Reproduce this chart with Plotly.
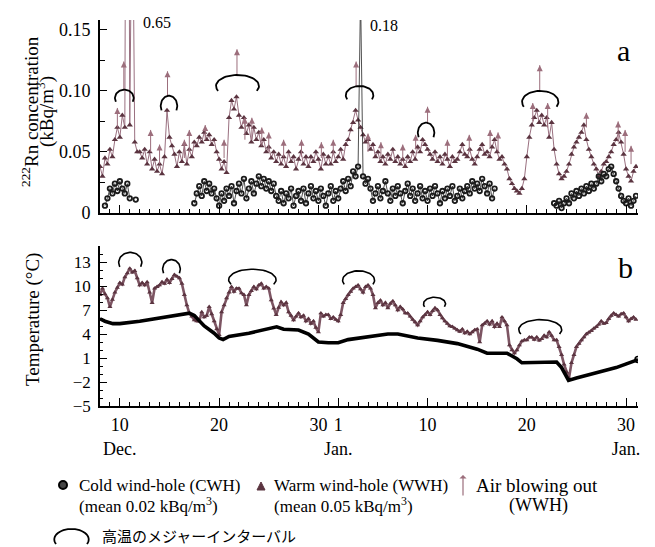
import numpy as np
import plotly.graph_objects as go

# ---------------- data (days counted from 0 Dec; Jan n = 31 + n) ----------------
STEP = 0.25

# (a) Radon, warm wind-hole (WWH), every 6 h from 8 Dec
wwh_rn_start = 8.0
wwh_rn = [
    0.038, 0.030, 0.045, 0.040, 0.052, 0.046, 0.060, 0.070,
    0.062, 0.080, 0.070, 0.650, 0.072, 0.300, 0.058, 0.050,
    0.050, 0.045, 0.052, 0.040, 0.050, 0.036, 0.044, 0.034,
    0.040, 0.032, 0.046, 0.084, 0.062, 0.055, 0.048, 0.038,
    0.050, 0.042, 0.056, 0.040, 0.052, 0.046, 0.058, 0.055,
    0.062, 0.058, 0.066, 0.060, 0.064, 0.056, 0.060, 0.050,
    0.044, 0.036, 0.042, 0.033, 0.078, 0.092, 0.085, 0.095,
    0.080, 0.070, 0.078, 0.065, 0.072, 0.058, 0.070, 0.060,
    0.066, 0.055, 0.060, 0.050, 0.054, 0.045, 0.050, 0.042,
    0.048, 0.040, 0.046, 0.038, 0.050, 0.042, 0.046, 0.036,
    0.044, 0.050, 0.040, 0.046, 0.038, 0.046, 0.042, 0.050,
    0.044, 0.036, 0.048, 0.040, 0.046, 0.040, 0.050, 0.042,
    0.046, 0.052, 0.044, 0.056, 0.060, 0.068, 0.074, 0.084,
    0.076, 0.070, 0.064, 0.058, 0.060, 0.052, 0.056, 0.046,
    0.050, 0.042, 0.046, 0.040, 0.048, 0.044, 0.052, 0.042,
    0.046, 0.040, 0.044, 0.038, 0.046, 0.042, 0.050, 0.044,
    0.054, 0.050, 0.060, 0.056, 0.052, 0.048, 0.044, 0.050,
    0.042, 0.046, 0.040, 0.048, 0.044, 0.038, 0.046, 0.042,
    0.044, 0.050, 0.056, 0.048, 0.046, 0.052, 0.044, 0.040,
    0.046, 0.052, 0.056, 0.048, 0.050, 0.046, 0.054, 0.060,
    0.050, 0.044, 0.046, 0.040, 0.036, 0.028, 0.024, 0.020,
    0.018, 0.016, 0.020, 0.028, 0.046, 0.062, 0.072, 0.078,
    0.084, 0.074, 0.080, 0.072, 0.078, 0.062, 0.074, 0.052,
    0.040, 0.032, 0.028, 0.030, 0.034, 0.040, 0.048, 0.054,
    0.058, 0.062, 0.066, 0.072, 0.060, 0.052, 0.046, 0.040,
    0.036, 0.030, 0.034, 0.040, 0.042, 0.046, 0.050, 0.056,
    0.060, 0.066, 0.058, 0.048, 0.036, 0.030, 0.026, 0.034,
    0.038,
]

# (a) Radon, cold wind-hole (CWH): separate recorded stretches
cwh_rn_a_start = 8.5
cwh_rn_a = [0.006, 0.012, 0.020, 0.016, 0.024, 0.018, 0.026, 0.020, 0.016, 0.024, 0.012]
cwh_rn_b_start = 11.6
cwh_rn_b = [0.011]
cwh_rn_c_start = 17.5
cwh_rn_c = [
    0.008, 0.016,
    0.022, 0.014, 0.026, 0.018, 0.024, 0.016, 0.020, 0.012,
    0.006, 0.016, 0.010, 0.020, 0.014, 0.022, 0.008, 0.018,
    0.024, 0.016, 0.028, 0.012, 0.020, 0.026, 0.016, 0.024,
    0.030, 0.022, 0.028, 0.020, 0.026, 0.018, 0.024, 0.014,
    0.010, 0.018, 0.008, 0.016, 0.012, 0.020, 0.006, 0.014,
    0.018, 0.010, 0.020, 0.008, 0.016, 0.022, 0.012, 0.018,
    0.010, 0.020, 0.014, 0.006, 0.016, 0.022, 0.010, 0.018,
    0.012, 0.020, 0.026, 0.018, 0.028, 0.022, 0.034, 0.030,
    0.038, 0.180, 0.030, 0.024, 0.028, 0.020, 0.010, 0.016,
    0.022, 0.012, 0.018, 0.026, 0.016, 0.010, 0.020, 0.014,
    0.022, 0.016, 0.008, 0.018, 0.024, 0.014, 0.020, 0.010,
    0.016, 0.022, 0.012, 0.018, 0.010, 0.020, 0.014, 0.022,
    0.016, 0.008, 0.018, 0.012, 0.020, 0.014, 0.022, 0.010,
    0.014, 0.020, 0.012, 0.018, 0.022, 0.016, 0.026, 0.020,
    0.024, 0.018, 0.028, 0.022, 0.016, 0.024, 0.012, 0.020,
]
cwh_rn_d_start = 53.75
cwh_rn_d = [
    0.008,
    0.006, 0.010, 0.004, 0.008, 0.012, 0.008, 0.016, 0.012,
    0.018, 0.014, 0.020, 0.016, 0.022, 0.018, 0.024, 0.020,
    0.024, 0.030, 0.026, 0.032, 0.030, 0.036, 0.038, 0.032,
    0.026, 0.020, 0.014, 0.010, 0.008, 0.012, 0.006, 0.010,
    0.014,
]

# (a) "Air blowing out" (WWH) arrows
arrow_day = [10.4, 14.8, 21.8, 33.8, 41.0, 52.3, 9.75, 13.1, 14.0, 16.5, 17.0, 18.6,
             20.5, 22.6, 23.3, 24.3, 25.0, 26.5, 28.3, 30.3, 31.5, 35.0, 36.3, 38.5,
             39.8, 43.0, 45.2, 47.3, 48.1, 51.6, 53.1, 57.0, 60.2, 60.9, 61.5]
arrow_base = [0.100, 0.095, 0.112, 0.103, 0.073, 0.099, 0.070, 0.050, 0.040, 0.045, 0.050, 0.060,
              0.045, 0.060, 0.060, 0.055, 0.050, 0.046, 0.046, 0.045, 0.048, 0.050, 0.046, 0.044,
              0.052, 0.046, 0.050, 0.054, 0.050, 0.075, 0.070, 0.070, 0.058, 0.050, 0.040]
arrow_tip = [0.124, 0.116, 0.134, 0.124, 0.087, 0.121, 0.086, 0.068, 0.056, 0.060, 0.068, 0.072,
             0.060, 0.078, 0.078, 0.070, 0.066, 0.060, 0.060, 0.058, 0.060, 0.065, 0.058, 0.056,
             0.064, 0.060, 0.064, 0.068, 0.066, 0.090, 0.090, 0.082, 0.075, 0.068, 0.055]

# (b) Temperature, warm wind-hole
wwh_t_start = 8.0
wwh_t = [
    8.9, 9.7, 9.0, 8.5, 7.4, 8.3, 9.2, 9.8,
    10.4, 10.2, 11.1, 11.6, 12.2, 11.7, 11.9, 11.0,
    10.1, 10.4, 10.1, 10.5, 9.2, 7.9, 9.7, 9.9,
    10.1, 10.5, 10.3, 10.8, 10.4, 10.9, 11.4, 11.2,
    11.0, 10.3, 8.9, 7.6, 6.6, 6.2, 5.75, 5.6,
    5.6, 6.75, 6.1, 6.3, 7.4, 6.5, 5.6, 4.6,
    3.9, 6.75, 7.6, 8.5, 9.2, 9.9, 9.3, 9.7,
    9.7, 9.1, 8.9, 7.6, 8.9, 9.4, 9.9, 9.6,
    10.1, 10.3, 9.7, 9.9, 9.7, 8.25, 7.2, 6.4,
    7.3, 8.0, 7.6, 7.9, 6.75, 6.3, 5.75, 6.2,
    6.6, 6.1, 6.3, 5.6, 5.9, 5.3, 5.6, 4.8,
    4.25, 6.6, 6.2, 6.4, 6.4, 5.9, 6.1, 5.8,
    5.6, 6.4, 7.9, 8.4, 8.9, 9.3, 9.7, 9.9,
    10.1, 9.6, 9.2, 9.9, 10.1, 9.7, 8.9, 7.25,
    7.9, 8.2, 7.6, 7.9, 7.25, 7.8, 8.1, 7.6,
    7.0, 7.4, 7.1, 6.6, 6.6, 6.2, 5.8, 5.5,
    5.1, 5.6, 6.1, 6.4, 6.75, 6.4, 6.9, 7.25,
    7.0, 6.4, 6.0, 5.6, 5.3, 5.0, 4.9, 4.7,
    4.5, 4.3, 4.6, 4.1, 4.3, 4.0, 4.25, 4.5,
    4.6, 3.0, 5.1, 5.3, 5.6, 5.2, 5.6, 4.9,
    5.3, 4.9, 6.1, 5.6, 5.1, 2.6, 2.0, 1.6,
    2.0, 2.6, 3.1, 3.25, 3.25, 3.6, 3.6, 3.3,
    3.6, 3.2, 3.4, 3.8, 3.6, 4.25, 3.8, 3.25,
    3.25, 2.4, 1.4, 0.2, -0.75, -1.5, 0.4, 1.4,
    2.4, 2.8, 3.25, 3.6, 4.0, 4.2, 4.4, 4.7,
    4.9, 5.2, 5.6, 5.3, 5.4, 5.9, 6.3, 6.6,
    6.4, 6.2, 6.5, 6.6, 6.1, 5.6, 5.9, 6.1,
    5.8,
]

# (b) Temperature, cold wind-hole
cwh_t_day = [8.0, 8.5, 9.3, 10.0, 12.0, 14.0, 16.0, 17.0, 17.5, 18.5, 19.5, 20.0, 20.4,
             21.0, 23.0, 25.0, 25.8, 26.5, 28.0, 29.0, 30.0, 31.0, 32.0, 33.0, 35.0,
             37.0, 38.0, 40.0, 42.0, 43.0, 44.0, 46.0, 47.0, 49.0, 50.0, 50.5, 52.0,
             54.0, 54.5, 55.2, 56.0, 58.0, 60.0, 62.2]
cwh_t = [5.9, 5.6, 5.3, 5.3, 5.6, 6.0, 6.3, 6.6, 6.3, 5.0, 4.1, 3.5, 3.3,
         3.7, 4.1, 4.6, 4.9, 4.6, 4.5, 4.0, 3.0, 2.9, 2.9, 3.3, 3.6,
         4.0, 4.0, 3.5, 3.2, 3.0, 2.8, 2.1, 1.6, 1.6, 0.9, 0.4, 0.4,
         0.5, -0.2, -1.8, -1.5, -0.8, -0.2, 0.8]

# Major high-temperature intervals (arcs): start day, end day, foot value, top value
arc_a_start = [9.6, 14.2, 19.9, 32.9, 40.1, 50.7]
arc_a_end = [11.3, 15.7, 23.8, 35.4, 41.6, 54.0]
arc_a_foot = [0.091, 0.084, 0.100, 0.093, 0.062, 0.087]
arc_a_top = [0.101, 0.096, 0.113, 0.104, 0.074, 0.100]
arc_b_start = [10.0, 14.4, 21.2, 32.6, 40.7, 50.4]
arc_b_end = [12.1, 16.0, 25.5, 35.5, 42.7, 54.3]
arc_b_foot = [12.4, 11.6, 10.2, 10.2, 7.4, 4.0]
arc_b_top = [14.2, 13.3, 12.1, 11.9, 8.6, 5.8]

# Axis ticks
x_tick_days = [10, 20, 30, 32, 41, 51, 61]
x_tick_text = ["10<br>Dec.", "20", "30", "1<br>Jan.", "10", "20", "30<br>Jan."]
rn_ticks = [0, 0.05, 0.10, 0.15]
rn_tick_text = ["0", "0.05", "0.10", "0.15"]
rn_minor = [0.025, 0.075, 0.125]
t_ticks = [-5, -2, 1, 4, 7, 10, 13]

# ---------------- styling ----------------
SERIF = "Liberation Serif, Times New Roman, DejaVu Serif, serif"
JP = "Noto Sans CJK JP"
MAROON_PT = "#5b3440"
MAROON_LN = "#9a7080"
ARROW_C = "#9c6e7c"
W, H = 655, 547
ML, MR, MT, MB = 100, 17, 20, 141
PW, PH = W - ML - MR, H - MT - MB


def fx(px):
    return (px - ML) / PW


def fy(py):
    return (H - MB - py) / PH


def arc_xy(x0, x1, yfoot, ytop, n=40, a=0.45):
    t = np.linspace(-a, np.pi + a, n)
    c, h = (x0 + x1) / 2, (x1 - x0) / 2
    x = c + h * np.cos(t) / np.cos(a)
    y = ytop - (ytop - yfoot) * (1 - np.sin(t)) / (1 + np.sin(a))
    return x, y


def days(start, vals):
    return start + STEP * np.arange(len(vals))


fig = go.Figure()

# ---- panel a ----
fig.add_trace(go.Scatter(
    x=days(wwh_rn_start, wwh_rn), y=wwh_rn, mode="lines+markers",
    line=dict(color=MAROON_LN, width=1),
    marker=dict(symbol="triangle-up", size=5.5, color=MAROON_PT),
    xaxis="x", yaxis="y"))

ax, ay = [], []
for d, b, t in zip(arrow_day, arrow_base, arrow_tip):
    ax += [d, d, None]
    ay += [b, t, None]
fig.add_trace(go.Scatter(x=ax, y=ay, mode="lines", line=dict(color=ARROW_C, width=1),
                         xaxis="x", yaxis="y"))
fig.add_trace(go.Scatter(x=arrow_day, y=arrow_tip, mode="markers",
                         marker=dict(symbol="arrow-up", size=6, color=ARROW_C),
                         xaxis="x", yaxis="y"))

for start, vals in [(cwh_rn_a_start, cwh_rn_a), (cwh_rn_b_start, cwh_rn_b),
                    (cwh_rn_c_start, cwh_rn_c), (cwh_rn_d_start, cwh_rn_d)]:
    fig.add_trace(go.Scatter(
        x=days(start, vals), y=vals, mode="lines+markers",
        line=dict(color="#222222", width=0.8),
        marker=dict(symbol="circle-open", size=4.5, color="#1a1a1a", line=dict(width=1.8)),
        xaxis="x", yaxis="y"))

for x0, x1, yf, yt in zip(arc_a_start, arc_a_end, arc_a_foot, arc_a_top):
    xs, ys = arc_xy(x0, x1, yf, yt)
    fig.add_trace(go.Scatter(x=xs, y=ys, mode="lines", line=dict(color="black", width=1.8),
                             xaxis="x", yaxis="y"))

# ---- panel b ----
fig.add_trace(go.Scatter(
    x=days(wwh_t_start, wwh_t), y=wwh_t, mode="lines+markers",
    line=dict(color="#7d5563", width=2.6),
    marker=dict(symbol="triangle-up", size=4.5, color=MAROON_PT),
    xaxis="x2", yaxis="y2"))
fig.add_trace(go.Scatter(x=cwh_t_day, y=cwh_t, mode="lines",
                         line=dict(color="black", width=3.6), xaxis="x2", yaxis="y2"))
fig.add_trace(go.Scatter(x=cwh_t_day[-1:], y=cwh_t[-1:], mode="markers",
                         marker=dict(symbol="circle-open", size=6, color="black", line=dict(width=1.5)),
                         xaxis="x2", yaxis="y2"))
for x0, x1, yf, yt in zip(arc_b_start, arc_b_end, arc_b_foot, arc_b_top):
    xs, ys = arc_xy(x0, x1, yf, yt)
    fig.add_trace(go.Scatter(x=xs, y=ys, mode="lines", line=dict(color="black", width=1.6),
                             xaxis="x2", yaxis="y2"))

# ---------------- axes ----------------
xcommon = dict(range=[8.0, 62.2], tickmode="array", tickvals=x_tick_days,
               ticks="inside", ticklen=8, tickwidth=1.3, tickcolor="black", tickangle=0,
               minor=dict(tickmode="linear", tick0=0, dtick=1, ticks="inside", ticklen=4,
                          tickwidth=1, tickcolor="black", showgrid=False),
               showline=True, linecolor="black", linewidth=1.6, showgrid=False, zeroline=False,
               fixedrange=True)
fig.update_layout(
    xaxis=dict(domain=[0, 1], anchor="y", showticklabels=False, matches="x2", **xcommon),
    xaxis2=dict(domain=[0, 1], anchor="y2", ticktext=x_tick_text,
                tickfont=dict(family=SERIF, size=18, color="black"), ticklabelstandoff=2,
                **xcommon),
    yaxis=dict(domain=[0.5, 1], anchor="x", range=[0, 0.158], tickmode="array",
               tickvals=rn_ticks, ticktext=rn_tick_text, ticks="inside", ticklen=7,
               tickwidth=1.3, tickcolor="black",
               minor=dict(tickmode="array", tickvals=rn_minor, ticks="inside", ticklen=5,
                          tickcolor="black", showgrid=False),
               tickfont=dict(family=SERIF, size=18, color="black"), ticklabelstandoff=4,
               showline=True, linecolor="black", linewidth=1.6, showgrid=False, zeroline=False),
    yaxis2=dict(domain=[0, (H - MB - 246) / PH], anchor="x2", range=[-5, 15], tickmode="array",
                tickvals=t_ticks, ticks="inside", ticklen=7, tickwidth=1.3, tickcolor="black",
                minor=dict(tickmode="linear", tick0=0, dtick=1, ticks="inside", ticklen=3,
                           tickcolor="black", showgrid=False),
                tickfont=dict(family=SERIF, size=17, color="black"), ticklabelstandoff=4,
                showline=True, linecolor="black", linewidth=1.6, showgrid=False, zeroline=False),
)

# ---------------- annotations ----------------
ann = []


def txt(text, px, py, size=17, xanchor="center", family=SERIF, angle=0, color="black"):
    ann.append(dict(text=text, x=fx(px), y=fy(py), xref="paper", yref="paper",
                    xanchor=xanchor, yanchor="middle", showarrow=False, textangle=angle,
                    font=dict(family=family, size=size, color=color)))


txt("<sup>222</sup>Rn concentration", 30, 112, size=19, angle=-90)
txt("(kBq/m<sup>3</sup>)", 46, 112, size=19, angle=-90)
txt("Temperature (°C)", 33, 320, size=19, angle=-90)
txt("a", 623, 50, size=30)
txt("b", 625, 267, size=30)
txt("0.65", 157, 22, size=16)
txt("0.18", 384, 25, size=16)

# legend
txt("Cold wind-hole (CWH)", 77, 485, xanchor="left")
txt("(mean 0.02 kBq/m<sup>3</sup>)", 77, 505, xanchor="left")
txt("Warm wind-hole (WWH)", 272, 485, xanchor="left")
txt("(mean 0.05 kBq/m<sup>3</sup>)", 272, 505, xanchor="left")
txt("Air blowing out", 474, 485, size=19, xanchor="left")
txt("(WWH)", 538, 505, size=18)
txt("高温のメジャーインターバル", 100, 535, size=15, xanchor="left", family=JP)
ann.append(dict(x=fx(463), y=fy(475), xref="paper", yref="paper", ax=0, ay=22,
                showarrow=True, arrowhead=1, arrowsize=1, arrowwidth=1.2,
                arrowcolor=ARROW_C, text=""))

shapes = [
    dict(type="circle", xref="paper", yref="paper", x0=fx(59), x1=fx(67), y0=fy(489), y1=fy(481),
         fillcolor="#444444", line=dict(color="black", width=2)),
    dict(type="path", xref="paper", yref="paper",
         path=f"M {fx(257)},{fy(490)} L {fx(265)},{fy(490)} L {fx(261)},{fy(482)} Z",
         fillcolor=MAROON_PT, line=dict(color=MAROON_PT, width=1)),
]
lx, ly = arc_xy(56, 87, 544, 529, n=30)
path = "M " + " L ".join(f"{fx(a)},{fy(b)}" for a, b in zip(lx, ly))
shapes.append(dict(type="path", xref="paper", yref="paper", path=path,
                   line=dict(color="black", width=1.8)))

fig.update_layout(
    width=W, height=H, margin=dict(l=ML, r=MR, t=MT, b=MB),
    paper_bgcolor="white", plot_bgcolor="white", showlegend=False,
    font=dict(family=SERIF, color="black"),
    annotations=ann, shapes=shapes,
)

fig.write_html("out.html")
